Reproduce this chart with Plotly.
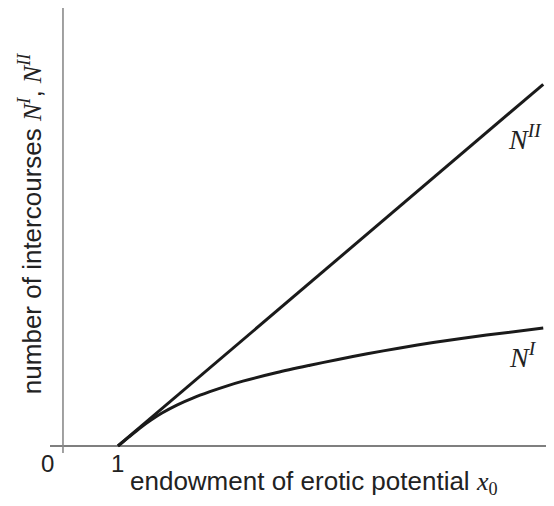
import plotly.graph_objects as go

# ---- data ----
x_N2 = [1.0, 8.73]
y_N2 = [0.0, 7.73]

x_N1 = [1.0, 1.2, 1.4, 1.6, 1.8, 2.07, 2.37, 2.67, 3.0, 3.27, 3.89, 4.49, 5.0, 5.53, 6.1, 6.73, 7.7, 8.73]
y_N1 = [0.0, 0.195, 0.385, 0.555, 0.705, 0.875, 1.03, 1.16, 1.29, 1.385, 1.57, 1.725, 1.85, 1.97, 2.09, 2.21, 2.37, 2.52]

tick_vals = [0, 1]
tick_text = ["0", "1"]

serif = "font-family:Liberation Serif"
xlabel = f"endowment of erotic potential <span style='{serif}'><i>x</i><sub>0</sub></span>"
ylabel = (f"number of intercourses <span style='{serif}'><i>N</i><sup><i>I</i></sup></span>, "
          f"<span style='{serif}'><i>N</i><sup><i>II</i></sup></span>")
lab_N1 = "<i>N</i><sup><i>I</i></sup>"
lab_N2 = "<i>N</i><sup><i>II</i></sup>"

W, H = 554, 506
XMIN, XMAX = -0.236, 8.78
YMIN, YMAX = -0.15, 9.36

fig = go.Figure()
fig.add_trace(go.Scatter(x=x_N2, y=y_N2, mode="lines",
                         line=dict(color="#1a1a1a", width=3), hoverinfo="skip"))
fig.add_trace(go.Scatter(x=x_N1, y=y_N1, mode="lines",
                         line=dict(color="#1a1a1a", width=3, shape="spline", smoothing=0.8),
                         hoverinfo="skip"))

# axes lines
fig.add_shape(type="line", xref="paper", yref="y", x0=0, x1=1, y0=0, y1=0,
              line=dict(color="#555555", width=1.6), layer="below")
fig.add_shape(type="line", xref="x", yref="paper", x0=0, x1=0, y0=0, y1=1,
              line=dict(color="#8a8a8a", width=1.6), layer="below")

font_sans = "Liberation Sans, Arial, sans-serif"
# tick labels
fig.add_annotation(x=tick_vals[0], y=0, xref="x", yref="y", text=tick_text[0], showarrow=False,
                   xshift=-15, yshift=-18, font=dict(family=font_sans, size=24, color="#222"))
fig.add_annotation(x=tick_vals[1], y=0, xref="x", yref="y", text=tick_text[1], showarrow=False,
                   xshift=-1, yshift=-18, font=dict(family=font_sans, size=24, color="#222"))
# axis titles
fig.add_annotation(x=1.18, y=0, xref="x", yref="y", text=xlabel, showarrow=False,
                   xanchor="left", yshift=-37, font=dict(family=font_sans, size=26, color="#222"))
fig.add_annotation(x=-0.075, y=0.515, xref="paper", yref="paper", text=ylabel, showarrow=False,
                   textangle=-90, font=dict(family=font_sans, size=26, color="#222"))
# curve labels
fig.add_annotation(x=8.05, y=6.6, xref="x", yref="y", text=lab_N2, showarrow=False,
                   xanchor="left", font=dict(family="Liberation Serif, serif", size=28, color="#222"))
fig.add_annotation(x=8.07, y=1.94, xref="x", yref="y", text=lab_N1, showarrow=False,
                   xanchor="left", font=dict(family="Liberation Serif, serif", size=28, color="#222"))

fig.update_layout(
    width=W, height=H,
    margin=dict(l=50, r=8, t=8, b=53),
    paper_bgcolor="white", plot_bgcolor="white",
    showlegend=False,
    xaxis=dict(range=[XMIN, XMAX], showgrid=False, zeroline=False, showline=False,
               showticklabels=False, ticks=""),
    yaxis=dict(range=[YMIN, YMAX], showgrid=False, zeroline=False, showline=False,
               showticklabels=False, ticks=""),
)
fig.write_html("out.html", config={"displayModeBar": False},
               post_script="document.body.style.margin='0px';")
